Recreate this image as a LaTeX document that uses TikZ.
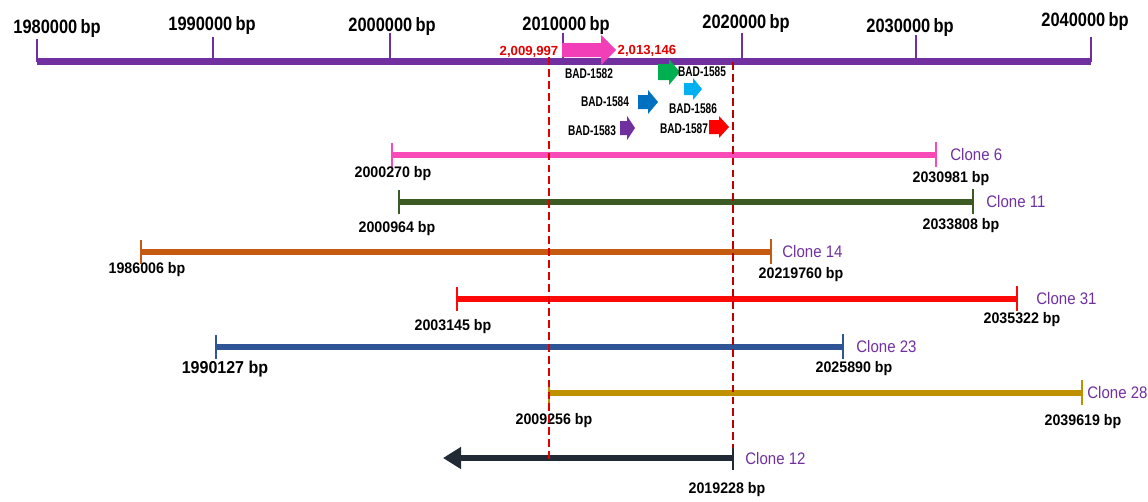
\documentclass[tikz,border=0pt]{standalone}
\usepackage{fontspec}
\setmainfont{Liberation Sans}
\newfontfamily\axisfont[FakeStretch=0.85]{Liberation Sans}
\newfontfamily\narrowfont[FakeStretch=0.93]{Liberation Sans}
\newfontfamily\condfont[FakeStretch=0.72]{Liberation Sans}
\newfontfamily\clonefont[FakeStretch=0.9]{Liberation Sans}
\usetikzlibrary{arrows.meta}
\definecolor{axispurple}{HTML}{7030A0}
\definecolor{genepink}{HTML}{F23FB8}
\definecolor{genegreen}{HTML}{00B050}
\definecolor{genecyan}{HTML}{00B0F0}
\definecolor{geneblue}{HTML}{0070C0}
\definecolor{genered}{HTML}{FF0000}
\definecolor{clpink}{HTML}{F84BB8}
\definecolor{clgreen}{HTML}{3B5A24}
\definecolor{clorange}{HTML}{C55A11}
\definecolor{clred}{HTML}{FF0808}
\definecolor{clblue}{HTML}{2F5597}
\definecolor{clgold}{HTML}{BF9000}
\definecolor{clnavy}{HTML}{222A35}
\definecolor{cutred}{HTML}{E00000}
\tikzset{
  axisline/.style={axispurple,line width=4pt},
  axistick/.style={axispurple,line width=1.3pt},
  ticklabel/.style={font=\axisfont\bfseries\fontsize{11}{11}\selectfont,inner sep=0pt},
  cloneline/.style={line width=3pt},
  endtick/.style={line width=1.1pt},
  clonelabel/.style={text=axispurple,font=\clonefont\fontsize{9.5}{9.5}\selectfont,inner sep=0pt},
  genelabel/.style={font=\condfont\bfseries\fontsize{8}{8}\selectfont,inner sep=0pt},
  poslabel/.style={text=cutred,font=\bfseries\fontsize{7.5}{7.5}\selectfont,inner sep=0pt},
  cutline/.style={cutred,line width=1.1pt,dash pattern=on 4.5pt off 2.3pt},
}
\begin{document}
\begin{tikzpicture}[x=0.02cm,y=-0.02cm]
    \useasboundingbox (0,0) rectangle (1148,501);
    % genome axis
    \coordinate (axL) at (37,61.5);
    \coordinate (axR) at (1091,61.5);
    \draw[axisline] (axL) -- (axR);
    \foreach \i/\x/\ty/\lx/\ly in {
    198/37/39/57/28,
    199/213/37/212/25.5,
    200/390/33/392/26,
    201/563/33/566/25,
    202/742/33/746/23,
    203/916/35/910/27,
    204/1091/37/1085/22}{
        \coordinate (tk\i) at (\x,\ty);
        \draw[axistick] (tk\i) -- (tk\i |- axL);
        \node[ticklabel] (tl\i) at (\lx,\ly) {\i0000\,bp};
    }
    % genes
    \foreach \g/\x/\y/\l/\hl/\bh/\hh/\col in {
    1582/562/50/54/15/7/15/genepink,
    1585/658/72/22/11/8/13/genegreen,
    1586/684/89/18/9/6/11/genecyan,
    1584/638/102/20/10/7/12/geneblue,
    1583/620/128/15/8/7/12/axispurple,
    1587/709/127/20/10/7/11/genered}{
        \fill[\col] (\x,\y) coordinate (g\g) ++(0,-\bh) -- ++(\l-\hl,0) -- ++(0,\bh-\hh)
            -- ++(\hl,\hh) -- ++(-\hl,\hh) -- ++(0,\bh-\hh) -- ++(\hl-\l,0) -- cycle;
    }
    \foreach \g/\x/\y in {1582/589/74, 1585/702/72, 1586/693/109, 1584/605/102, 1583/592/131, 1587/684/129}{
        \node[genelabel] (lb\g) at (\x,\y) {BAD-\g};
    }
    \node[poslabel] (gstart) at (529,52) {2,009,997};
    \node[poslabel] (gend) at (647,51) {2,013,146};
    % clones
    \foreach \c/\y/\xa/\xb/\col/\ta/\lax/\lay/\fs/\tb/\lbx/\lby/\nx in {
    6/155/392/936/clpink/2000270/393/174/8.7/2030981/951/179/950,
    11/202/399/973/clgreen/2000964/397/229/8.7/2033808/961/226/986,
    14/252/141/771/clorange/1986006/147/270/8.7/20219760/801/275/782,
    31/299/457/1017/clred/2003145/453/327/8.7/2035322/1022/320/1036,
    23/347/216/843/clblue/1990127/225/369/9.8/2025890/854/369/856,
    28/393/549/1082/clgold/2009256/554/421/8.7/2039619/1083/422/1087}{
        \coordinate (c\c-l) at (\xa,\y);
        \coordinate (c\c-r) at (\xb,\y);
        \draw[cloneline,\col] (c\c-l) -- (c\c-r);
        \draw[endtick,\col] (c\c-l) ++(0,-12) -- ++(0,24);
        \draw[endtick,\col] (c\c-r) ++(0,-13) -- ++(0,25);
        \node[font=\narrowfont\bfseries\fontsize{\fs}{\fs}\selectfont,inner sep=0pt] (c\c-ln) at (\lax,\lay) {\ta\ bp};
        \node[font=\narrowfont\bfseries\fontsize{8.7}{8.7}\selectfont,inner sep=0pt] (c\c-rn) at (\lbx,\lby) {\tb\ bp};
        \node[clonelabel,anchor=west] (c\c-nm) at (\nx,\y) {Clone \c};
    }
    \coordinate (c12-l) at (443,458);
    \coordinate (c12-r) at (733,458);
    \draw[cloneline,clnavy,-{Triangle[length=0.36cm,width=0.42cm]}] (c12-r) -- (c12-l);
    \draw[endtick,clnavy] (c12-r) ++(0,-12) -- ++(0,24);
    \node[clonelabel,anchor=west] (c12-nm) at (745,459) {Clone 12};
    \node[font=\narrowfont\bfseries\fontsize{8.7}{8.7}\selectfont,inner sep=0pt] (c12-rn) at (727,490) {2019228 bp};
    % cut region
    \coordinate (cutLt) at (549,57);
    \coordinate (cutLb) at (549,462);
    \coordinate (cutRt) at (733,62);
    \coordinate (cutRb) at (733,448);
    \draw[cutline] (cutLt) -- (cutLb);
    \draw[cutline,red!75!black] (cutRt) -- (cutRb);
\end{tikzpicture}
\end{document}
